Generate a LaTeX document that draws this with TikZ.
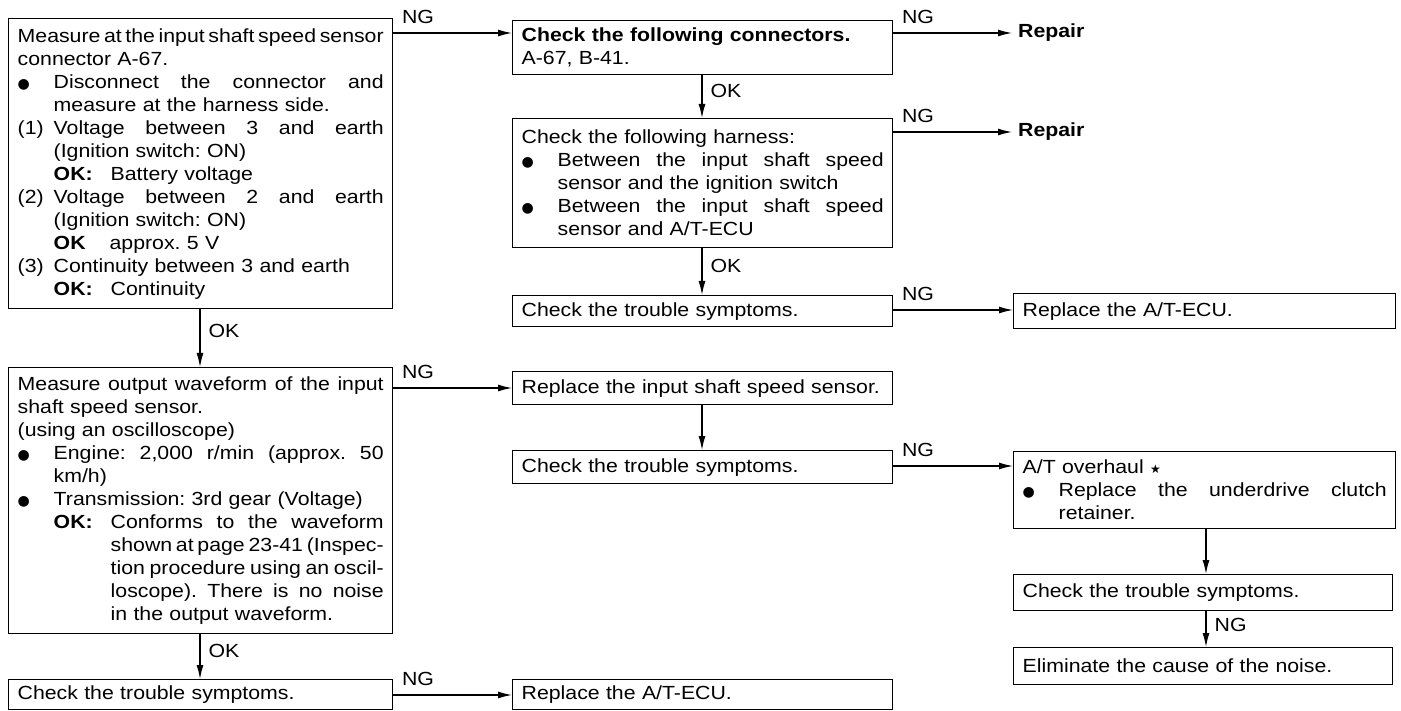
\documentclass[tikz,border=0pt]{standalone}
\usepackage{fontspec}
\setmainfont{Liberation Sans}[FakeStretch=1.12,WordSpace={2.5,1.5,3.0}]
\newfontfamily\symfont{DejaVu Sans}
\usetikzlibrary{arrows.meta}
\newcommand\fs{\fontsize{19pt}{23pt}\selectfont\frenchspacing}
\newcommand\bul{\makebox[36pt][l]{{\symfont\fontsize{14}{14}\selectfont ●}}}
\newcommand\ind{\hspace*{36pt}}
\newcommand\Js[2]{\makebox[#1][s]{\spaceskip=\fontdimen2\font plus 1fil minus 0.9\fontdimen2\font\relax #2}}
\newcommand\OKl{\makebox[57pt][l]{\textbf{OK:}}}
\newcommand\startsym{{\symfont\fontsize{12}{12}\selectfont ★}}
\begin{document}
\begin{tikzpicture}[x=1pt,y=-1pt,
  every node/.style={font=\fs},
  box/.style={draw, line width=1.4pt, anchor=north west, inner xsep=9pt, inner ysep=0pt, align=left},
  wideL/.style={minimum width=384pt, text width=366pt},
  wideM/.style={minimum width=380pt, text width=362pt},
  wideR/.style={minimum width=382pt, text width=364pt},
  arr/.style={line width=1.3pt, -{Latex[length=14pt,width=7pt]}},
  ng/.style={pos=0, anchor=south west, xshift=6pt, yshift=7pt, inner sep=2pt},
  ok/.style={pos=0.37, anchor=west, xshift=6pt, inner sep=2pt},
  rep/.style={anchor=west, inner xsep=6pt, inner ysep=2pt, font=\fs\bfseries}]
\useasboundingbox (0,0) rectangle (1401,711);

% left column
\node[box, wideL, minimum height=290pt] (b1) at (8,18) {%
\Js{366pt}{Measure at the input shaft speed sensor}\\
connector A-67.\\
\bul\Js{330pt}{Disconnect the connector and}\\
\ind measure at the harness side.\\
\makebox[36pt][l]{(1)}\Js{330pt}{Voltage between 3 and earth}\\
\ind(Ignition switch: ON)\\
\ind\OKl Battery voltage\\
\makebox[36pt][l]{(2)}\Js{330pt}{Voltage between 2 and earth}\\
\ind(Ignition switch: ON)\\
\ind\textbf{OK}\hspace{24pt}approx. 5 V\\
\makebox[36pt][l]{(3)}Continuity between 3 and earth\\
\ind\OKl Continuity};

\node[box, wideL, minimum height=266pt] (b2) at (8,367) {%
\Js{366pt}{Measure output waveform of the input}\\
shaft speed sensor.\\
(using an oscilloscope)\\
\bul\Js{330pt}{Engine: 2,000 r/min (approx. 50}\\
\ind km/h)\\
\bul Transmission: 3rd gear (Voltage)\\
\ind\OKl\Js{273pt}{Conforms to the waveform}\\
\hspace*{93pt}\Js{273pt}{shown at page 23-41 (Inspec-}\\
\hspace*{93pt}\Js{273pt}{tion procedure using an oscil-}\\
\hspace*{93pt}\Js{273pt}{loscope). There is no noise}\\
\hspace*{93pt}in the output waveform.};

\node[box, wideL, minimum height=30pt] (b3) at (8,679) {Check the trouble symptoms.};

% middle column
\node[box, wideM, minimum height=54pt] (bA) at (512,20) {%
\textbf{Check the following connectors.}\\
A-67, B-41.};

\node[box, wideM, minimum height=129pt] (bB) at (512,118) {%
Check the following harness:\\
\bul\Js{326pt}{Between the input shaft speed}\\
\ind sensor and the ignition switch\\
\bul\Js{326pt}{Between the input shaft speed}\\
\ind sensor and A/T-ECU};

\node[box, wideM, minimum height=31pt] (bC) at (512,295) {Check the trouble symptoms.};
\node[box, wideM, minimum height=33pt] (bE) at (512,371) {Replace the input shaft speed sensor.};
\node[box, wideM, minimum height=33pt] (bF) at (512,450) {Check the trouble symptoms.};
\node[box, wideM, minimum height=30pt] (bJ) at (512,679) {Replace the A/T-ECU.};

% right column
\node[rep] (rA) at (1012,33) {Repair};
\node[rep] (rB) at (1012,132) {Repair};
\node[box, wideR, minimum height=35pt] (bD) at (1013,293) {Replace the A/T-ECU.};
\node[box, wideR, minimum height=77pt] (bG) at (1013,451) {%
A/T overhaul \startsym\\
\bul\Js{328pt}{Replace the underdrive clutch}\\
\ind retainer.};
\node[box, minimum width=379pt, text width=361pt, minimum height=36pt] (bH) at (1013,574) {Check the trouble symptoms.};
\node[box, minimum width=379pt, text width=361pt, minimum height=37pt] (bI) at (1013,647) {Eliminate the cause of the noise.};

% helper coordinates
\coordinate (y1) at (0,33);
\coordinate (y2) at (0,132);
\coordinate (y3) at (0,310);
\coordinate (y4) at (0,388);
\coordinate (y5) at (0,466);
\coordinate (y6) at (0,695);
\coordinate (xL) at (200,0);
\coordinate (xM) at (702,0);
\coordinate (xR) at (1206,0);

% connectors
\draw[arr] (b1.east |- y1) -- node[ng]{NG} (bA.west |- y1);
\draw[arr] (bA.east |- y1) -- node[ng]{NG} (rA.west);
\draw[arr] (bA.south -| xM) -- node[ok]{OK} (bB.north -| xM);
\draw[arr] (bB.east |- y2) -- node[ng]{NG} (rB.west);
\draw[arr] (bB.south -| xM) -- node[ok]{OK} (bC.north -| xM);
\draw[arr] (bC.east |- y3) -- node[ng]{NG} (bD.west |- y3);
\draw[arr] (b1.south -| xL) -- node[ok]{OK} (b2.north -| xL);
\draw[arr] (b2.east |- y4) -- node[ng]{NG} (bE.west |- y4);
\draw[arr] (bE.south -| xM) -- (bF.north -| xM);
\draw[arr] (bF.east |- y5) -- node[ng]{NG} (bG.west |- y5);
\draw[arr] (bG.south -| xR) -- (bH.north -| xR);
\draw[arr] (bH.south -| xR) -- node[ok]{NG} (bI.north -| xR);
\draw[arr] (b2.south -| xL) -- node[ok]{OK} (b3.north -| xL);
\draw[arr] (b3.east |- y6) -- node[ng]{NG} (bJ.west |- y6);
\end{tikzpicture}
\end{document}
